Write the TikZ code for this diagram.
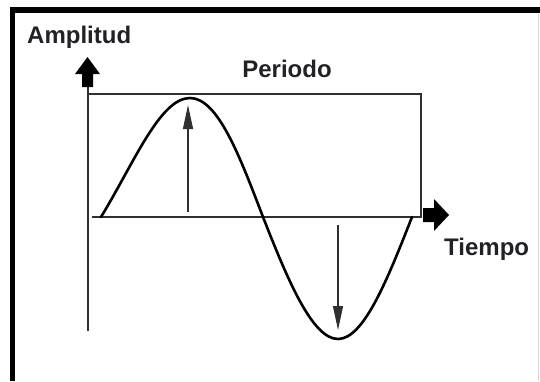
\documentclass[tikz,border=0pt]{standalone}
\usepackage{fontspec}
\setmainfont{Liberation Sans}
\usetikzlibrary{arrows.meta}
\definecolor{txt}{HTML}{232026}
\definecolor{axis}{HTML}{303030}
\tikzset{
  lbl/.style={font=\fontsize{24}{27}\selectfont\bfseries, text=txt, inner sep=0pt, anchor=base},
  axisline/.style={draw=axis, line width=2.2pt},
  wave/.style={draw=black, line width=2.6pt},
  thinarrow/.style={draw=axis, line width=1.3pt, -{Triangle[length=24pt,width=10pt]}},
  blockarrow/.style={fill=black, draw=none},
  frame/.style={draw=black, line width=5.5pt}
}
\begin{document}
\begin{tikzpicture}[x=1pt,y=-1pt]
\useasboundingbox (0,0) rectangle (540,381);
\fill[white] (0,0) rectangle (540,381);
% outer frame
\draw[frame] (12.5,381) -- (12.5,10) -- (540,10);
\draw[gray!30, line width=1pt] (538.5,13) -- (538.5,381);
% labels
\node[lbl, anchor=base west] (amp) at (27,43) {Amplitud};
\node[lbl] (per) at (287,77) {Periodo};
\node[lbl, anchor=base west] (tie) at (444,255) {Tiempo};
% coordinates
\coordinate (yb) at (88,331);
\coordinate (yt) at (88,87);
\coordinate (tl) at (89,94);
\coordinate (tr) at (421,94);
\coordinate (br) at (421,217);
\coordinate (bl) at (92,217);
% axes and period box
\draw[axisline] (yb) -- (yt);
\draw[axisline] (tl) -- (tr) -- (br) -- (bl);
% block arrows
\fill[blockarrow] (82,87) -- (82,74) -- (75,74) -- (87.5,57) -- (100,74) -- (93,74) -- (93,87) -- cycle;
\fill[blockarrow] (423,208) -- (434,208) -- (434,199) -- (449,215) -- (434,231) -- (434,222) -- (423,222) -- cycle;
% sine wave
\coordinate (w0) at (101,217);
\coordinate (w1) at (190,98);
\coordinate (w2) at (263,217);
\coordinate (w3) at (338,339);
\coordinate (w4) at (412,217);
\draw[wave, line cap=round, line join=round] (w0) .. controls (134,163) and (160,98) .. (w1)
  .. controls (218,98) and (240,157) .. (w2)
  .. controls (287,278) and (312,339) .. (w3)
  .. controls (364,339) and (388,278) .. (w4);
% amplitude arrows
\coordinate (ua) at (188,212);
\coordinate (ub) at (188,105);
\coordinate (da) at (338,225);
\coordinate (db) at (338,330);
\draw[thinarrow] (ua) -- (ub);
\draw[thinarrow] (da) -- (db);
\end{tikzpicture}
\end{document}
